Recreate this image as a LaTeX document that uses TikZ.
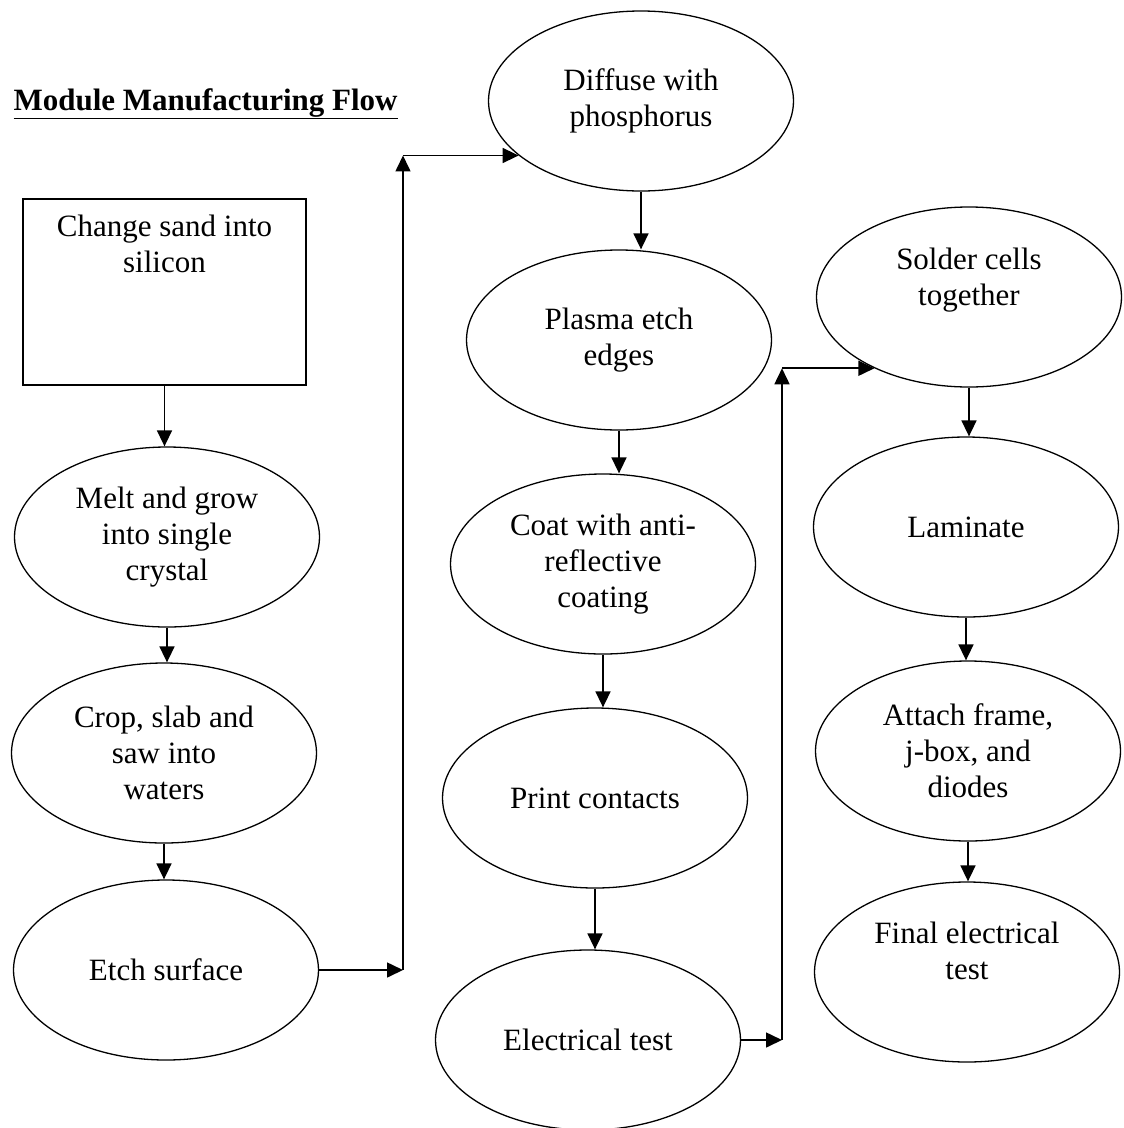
\documentclass[tikz,border=0pt]{standalone}
\usepackage{fontspec}
\setmainfont{Liberation Serif}
\usetikzlibrary{shapes.geometric,arrows.meta}
\tikzset{
  stage/.style={draw, ellipse, line width=1.3pt, minimum width=305pt, minimum height=180pt,
    inner sep=0pt, align=center, font=\fontsize{31}{36}\selectfont},
  startbox/.style={draw, rectangle, line width=1.6pt, minimum width=283pt, minimum height=186pt},
  txt/.style={align=center, font=\fontsize{31}{36}\selectfont},
  flow/.style={-{Triangle[length=16pt,width=15pt]}, line width=1.6pt}
}
\begin{document}
\begin{tikzpicture}[x=1pt, y=-1pt]
      \useasboundingbox (0,0) rectangle (1124,1128);
      \node[anchor=base west, font=\fontsize{31}{36}\selectfont\bfseries] (title) at (10,110)
        {\underline{Module Manufacturing Flow}};

      \node[startbox] (sand) at (164.5,292) {};
      \node[txt] (sandtxt) at (164.5,244) {Change sand into\\silicon};
      \node[stage] (melt) at (167,537) {Melt and grow\\into single\\crystal};
      \node[stage] (crop) at (164,753) {Crop, slab and\\saw into\\waters};
      \node[stage] (etch) at (166,970) {Etch surface};

      \node[stage] (diffuse) at (641,101) {Diffuse with\\phosphorus};
      \node[stage] (plasma) at (619,340) {Plasma etch\\edges};
      \node[stage] (coat) at (603,564) {Coat with anti-\\reflective\\coating};
      \node[stage] (print) at (595,798) {Print contacts};
      \node[stage] (elec) at (588,1040) {Electrical test};

      \node[stage] (solder) at (969,297) {};
      \node[txt] (soldertxt) at (969,280) {Solder cells\\together};
      \node[stage] (laminate) at (966,527) {Laminate};
      \node[stage] (attach) at (968,751) {Attach frame,\\j-box, and\\diodes};
      \node[stage] (final) at (967,972) {};
      \node[txt] (finaltxt) at (967,951) {Final electrical\\test};

      \coordinate (turn1) at (403,970);
      \coordinate (turn2) at (782,1040);

      \begin{scope}[flow]
        \draw (sand.south) -- (sand.south |- melt.north);
        \draw (melt.south) -- (melt.south |- crop.north);
        \draw (crop.south) -- (crop.south |- etch.north);
        \draw (etch.east) -- (turn1);
        \draw (turn1) -- (turn1 |- diffuse.204);
        \draw (turn1 |- diffuse.204) -- (diffuse.204);
        \draw (diffuse.south) -- (diffuse.south |- plasma.north);
        \draw (plasma.south) -- (plasma.south |- coat.north);
        \draw (coat.south) -- (coat.south |- print.north);
        \draw (print.south) -- (print.south |- elec.north);
        \draw (elec.east) -- (turn2);
        \draw (turn2) -- (turn2 |- solder.217);
        \draw (turn2 |- solder.217) -- (solder.217);
        \draw (solder.south) -- (solder.south |- laminate.north);
        \draw (laminate.south) -- (laminate.south |- attach.north);
        \draw (attach.south) -- (attach.south |- final.north);
      \end{scope}
    \end{tikzpicture}
\end{document}
